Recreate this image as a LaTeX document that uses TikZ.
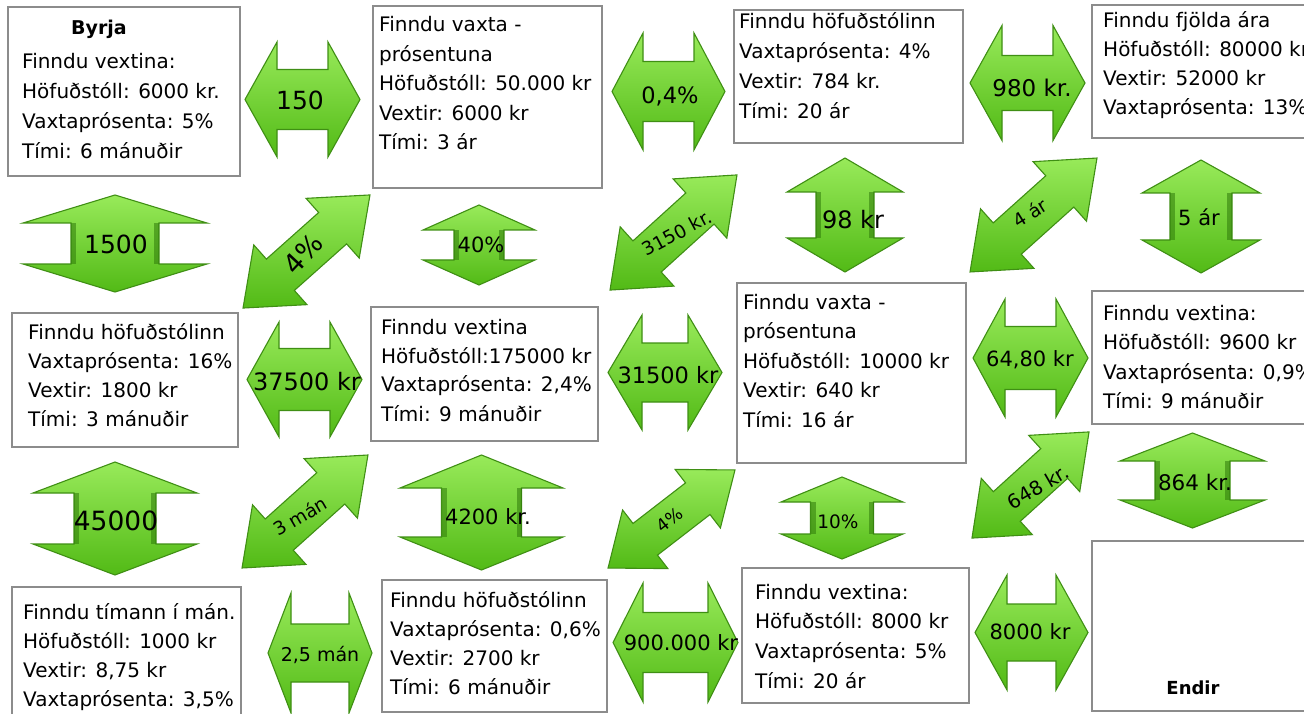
\documentclass[tikz,border=0pt]{standalone}
\usepackage{fontspec}
\setmainfont{DejaVu Sans}
\definecolor{gedge}{HTML}{3F8F14}
\definecolor{glight}{HTML}{98EA5A}
\definecolor{gdark}{HTML}{52BA16}
\definecolor{gshade}{HTML}{2F7A0A}
\definecolor{boxline}{HTML}{8C8C8C}
\tikzset{
  garrow/.style={draw=gedge, line width=1.1pt, top color=glight, bottom color=gdark, line join=miter},
  gband/.style={fill=gshade, opacity=0.55},
  box/.style={draw=boxline, line width=1.3pt, fill=white, anchor=north west, inner sep=0pt, outer sep=0pt},
  txt/.style={anchor=base west, inner sep=0pt},
  lbl/.style={inner sep=0pt, text=black},
}
\newcommand{\fs}[1]{\fontsize{#1}{#1}\selectfont}
\newcommand{\tl}[2]{\fontsize{20}{#1}\selectfont\begin{tabular}[t]{@{}l@{}}#2\end{tabular}}
% cx, cy, angle, half length, head length, head half width, shaft half width
\newcommand{\dblarrow}[7]{%
  \begin{scope}[shift={(#1,#2)},rotate=#3]
    \path[garrow] (-#4,0) -- (-#4+#5,#6) -- (-#4+#5,#7) -- (#4-#5,#7) -- (#4-#5,#6) -- (#4,0)
      -- (#4-#5,-#6) -- (#4-#5,-#7) -- (-#4+#5,-#7) -- (-#4+#5,-#6) -- cycle;
  \end{scope}}
% vertical arrow with shaded shaft edges: cx, cy, half length, head length, head half width, shaft half width
\newcommand{\vertarrow}[6]{%
  \dblarrow{#1}{#2}{90}{#3}{#4}{#5}{#6}
  \begin{scope}[shift={(#1,#2)}]
    \path[gband] (-#6,-#3+#4) rectangle (-#6+5,#3-#4);
    \path[gband] (#6-5,-#3+#4) rectangle (#6,#3-#4);
  \end{scope}}
\begin{document}
\begin{tikzpicture}[x=1pt,y=-1pt]
\useasboundingbox (0,0) rectangle (1304,714);
\fill[white] (0,0) rectangle (1304,714);

% ---------- boxes ----------
\node[box, minimum width=232, minimum height=169] (b1) at (8,7) {};
\node[box, minimum width=229, minimum height=182] (b2) at (373,6) {};
\node[box, minimum width=229, minimum height=133] (b3) at (734,10) {};
\node[box, minimum width=238, minimum height=133] (b4) at (1092,5) {};
\node[box, minimum width=226, minimum height=134] (b5) at (12,313) {};
\node[box, minimum width=227, minimum height=134] (b6) at (371,307) {};
\node[box, minimum width=229, minimum height=180] (b7) at (737,283) {};
\node[box, minimum width=238, minimum height=133] (b8) at (1092,291) {};
\node[box, minimum width=229, minimum height=143] (b9) at (12,587) {};
\node[box, minimum width=225, minimum height=132] (b10) at (382,580) {};
\node[box, minimum width=227, minimum height=135] (b11) at (742,568) {};
\node[box, minimum width=238, minimum height=170] (b12) at (1092,541) {};

% ---------- box texts ----------
\node[lbl, anchor=base, font=\fontsize{19}{19}\selectfont\bfseries] (tbyrja) at (99,35) {Byrja};
\node[txt] (t1) at (22,69) {\tl{29.7}{Finndu vextina:\\Höfuðstóll: 6000 kr.\\Vaxtaprósenta: 5\%\\Tími: 6 mánuðir}};
\node[txt] (t2) at (379,32) {\tl{29.5}{Finndu vaxta -\\prósentuna\\Höfuðstóll: 50.000 kr\\Vextir: 6000 kr\\Tími: 3 ár}};
\node[txt] (t3) at (739,29) {\tl{30}{Finndu höfuðstólinn\\Vaxtaprósenta: 4\%\\Vextir: 784 kr.\\Tími: 20 ár}};
\node[txt] (t4) at (1103,28) {\tl{29}{Finndu fjölda ára\\Höfuðstóll: 80000 kr\\Vextir: 52000 kr\\Vaxtaprósenta: 13\%}};
\node[txt] (t5) at (28,339) {\tl{29}{Finndu höfuðstólinn\\Vaxtaprósenta: 16\%\\Vextir: 1800 kr\\Tími: 3 mánuðir}};
\node[txt] (t6) at (381,334) {\tl{29}{Finndu vextina\\Höfuðstóll:175000 kr\\Vaxtaprósenta: 2,4\%\\Tími: 9 mánuðir}};
\node[txt] (t7) at (743,309) {\tl{29.5}{Finndu vaxta -\\prósentuna\\Höfuðstóll: 10000 kr\\Vextir: 640 kr\\Tími: 16 ár}};
\node[txt] (t8) at (1103,320) {\tl{29.5}{Finndu vextina:\\Höfuðstóll: 9600 kr\\Vaxtaprósenta: 0,9\%\\Tími: 9 mánuðir}};
\node[txt] (t9) at (23,619) {\tl{29}{Finndu tímann í mán.\\Höfuðstóll: 1000 kr\\Vextir: 8,75 kr\\Vaxtaprósenta: 3,5\%}};
\node[txt] (t10) at (390,607) {\tl{29}{Finndu höfuðstólinn\\Vaxtaprósenta: 0,6\%\\Vextir: 2700 kr\\Tími: 6 mánuðir}};
\node[txt] (t11) at (755,599) {\tl{29.7}{Finndu vextina:\\Höfuðstóll: 8000 kr\\Vaxtaprósenta: 5\%\\Tími: 20 ár}};
\node[lbl, anchor=base, font=\fontsize{18}{18}\selectfont\bfseries] (tendir) at (1193,694) {Endir};

% ---------- horizontal double arrows ----------
\dblarrow{302.5}{99.5}{0}{57.5}{32}{57.5}{30}
\dblarrow{668.5}{91.5}{0}{56.5}{31}{58.5}{30}
\dblarrow{1027.5}{83}{0}{57.5}{32}{57.5}{27.5}
\dblarrow{304.5}{379.5}{0}{57.5}{32}{57.5}{31}
\dblarrow{665}{372.5}{0}{57}{34}{57.5}{29.5}
\dblarrow{1030.5}{358}{0}{57.5}{32}{59}{31.5}
\dblarrow{320}{653}{0}{52}{23}{60}{29}
\dblarrow{675.5}{642.5}{0}{62.5}{30}{59.5}{30}
\dblarrow{1031.5}{632.5}{0}{56.5}{32}{57.5}{28.5}

% ---------- vertical double arrows ----------
\vertarrow{115}{243.5}{48.5}{28}{92}{44}
\vertarrow{479}{245}{40}{25}{56}{25}
\vertarrow{845}{215}{57}{34}{58}{29}
\vertarrow{1201}{216.5}{56.5}{33}{59}{31}
\vertarrow{115}{518.5}{56.5}{31}{82}{41}
\vertarrow{481.5}{512.5}{57.5}{33}{81.5}{40}
\vertarrow{842}{518}{41}{25}{61}{31.5}
\vertarrow{1192.5}{480.5}{47.5}{28}{72.5}{37.5}

% ---------- diagonal double arrows ----------
\dblarrow{306.5}{251.5}{41.7}{85}{50}{40}{21}
\dblarrow{673.5}{232.5}{42.2}{85.7}{50}{40}{21}
\dblarrow{1033.5}{215}{41.9}{85.3}{50}{40}{21}
\dblarrow{305}{511.5}{41.9}{84.6}{50}{40}{21}
\dblarrow{671.5}{519}{37.7}{80.2}{47}{37}{20}
\dblarrow{1030.5}{485}{42.2}{79}{47}{38}{20}

% ---------- arrow labels ----------
\node[lbl, font=\fs{25}] (l150) at (300,100) {150};
\node[lbl, font=\fs{22.5}] (l04) at (670,96) {0,4\%};
\node[lbl, font=\fs{23}] (l980) at (1032,88) {980 kr.};
\node[lbl, font=\fs{25}] (l1500) at (116,244) {1500};
\node[lbl, font=\fs{21}] (l40) at (481,245) {40\%};
\node[lbl, font=\fs{24}] (l98) at (853,220) {98 kr};
\node[lbl, font=\fs{21}] (l5ar) at (1199,217) {5 ár};
\node[lbl, font=\fs{24}] (l37500) at (307,382) {37500 kr};
\node[lbl, font=\fs{22.5}] (l31500) at (668,375) {31500 kr};
\node[lbl, font=\fs{21}] (l6480) at (1030,360) {64,80 kr};
\node[lbl, font=\fs{26.5}] (l45000) at (116,521) {45000};
\node[lbl, font=\fs{21}] (l4200) at (488,517) {4200 kr.};
\node[lbl, font=\fs{18.5}] (l10) at (838,522) {10\%};
\node[lbl, font=\fs{21.5}] (l864) at (1195,482) {864 kr.};
\node[lbl, font=\fs{19}] (l25man) at (320,655) {2,5 mán};
\node[lbl, font=\fs{21}] (l900) at (681,643) {900.000 kr};
\node[lbl, font=\fs{21}] (l8000) at (1030,632) {8000 kr};
\node[lbl, font=\fs{27}, rotate=47] (l4pa) at (303,254) {4\%};
\node[lbl, font=\fs{18.5}, rotate=28] (l3150) at (677,233) {3150 kr.};
\node[lbl, font=\fs{18.5}, rotate=32] (l4ar) at (1030,213) {4 ár};
\node[lbl, font=\fs{18.5}, rotate=30] (l3man) at (300,516) {3 mán};
\node[lbl, font=\fs{17.5}, rotate=38] (l4pb) at (670,520) {4\%};
\node[lbl, font=\fs{19.5}, rotate=30] (l648) at (1038,487) {648 kr.};
\end{tikzpicture}
\end{document}
